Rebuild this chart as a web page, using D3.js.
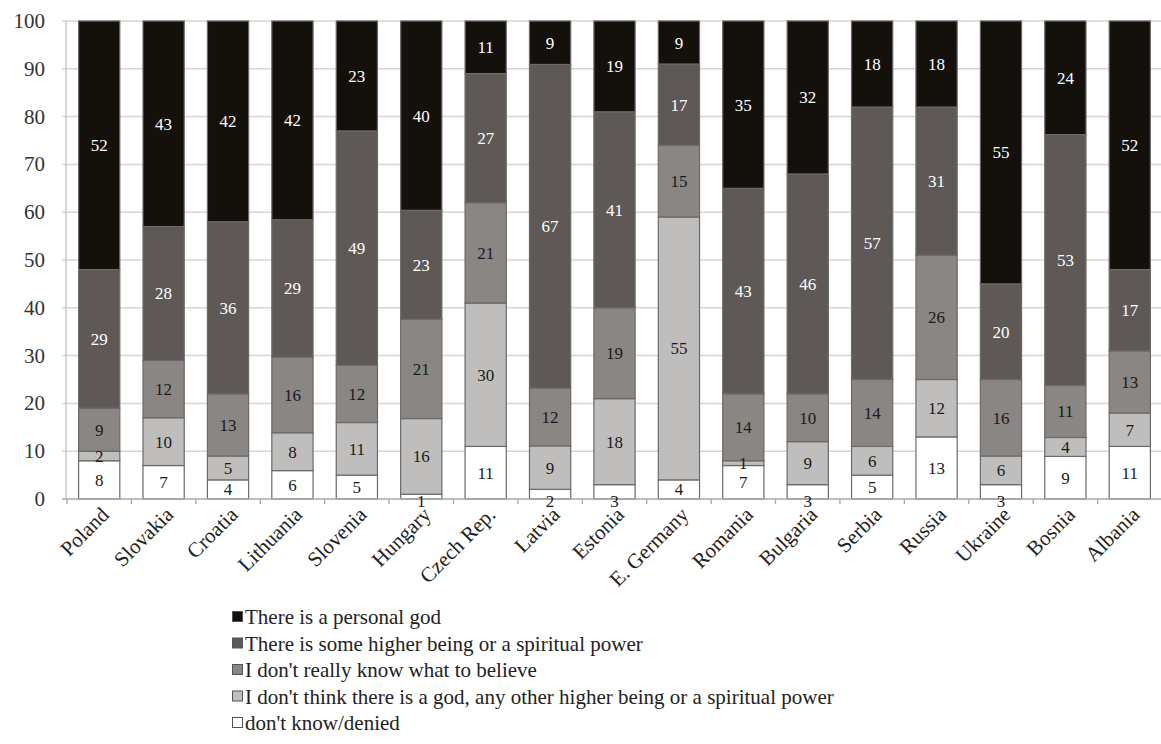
<!DOCTYPE html>
<html>
<head>
<meta charset="utf-8">
<script src="https://cdn.jsdelivr.net/npm/d3@7"></script>
</head>
<body style="margin:0">
<svg id="chart" width="1161" height="744" font-family="Liberation Serif"></svg>
<script>
// Countries along the horizontal axis
const countries = ["Poland", "Slovakia", "Croatia", "Lithuania", "Slovenia", "Hungary",
  "Czech Rep.", "Latvia", "Estonia", "E. Germany", "Romania", "Bulgaria", "Serbia",
  "Russia", "Ukraine", "Bosnia", "Albania"];

// Answer categories, stacked from the bottom up
const seriesNames = [
  "don't know/denied",
  "I don't think there is a god, any other higher being or a spiritual power",
  "I don't really know what to believe",
  "There is some higher being or a spiritual power",
  "There is a personal god"
];

// Percentages per country, one array per answer category
const dontKnowDenied   = [8, 7, 4, 6, 5, 1, 11, 2, 3, 4, 7, 3, 5, 13, 3, 9, 11];
const noGodAtAll       = [2, 10, 5, 8, 11, 16, 30, 9, 18, 55, 1, 9, 6, 12, 6, 4, 7];
const dontKnowBelieve  = [9, 12, 13, 16, 12, 21, 21, 12, 19, 15, 14, 10, 14, 26, 16, 11, 13];
const higherBeing      = [29, 28, 36, 29, 49, 23, 27, 67, 41, 17, 43, 46, 57, 31, 20, 53, 17];
const personalGod      = [52, 43, 42, 42, 23, 40, 11, 9, 19, 9, 35, 32, 18, 18, 55, 24, 52];

const yTicks = [0, 10, 20, 30, 40, 50, 60, 70, 80, 90, 100];

const seriesColors = ["#ffffff", "#bfbebc", "#898684", "#5e5956", "#14110d"];
const labelColors  = ["#1a1a1a", "#1a1a1a", "#1a1a1a", "#ffffff", "#ffffff"];

const serifFace = () => `"Liberation Serif"`;

const seriesValues = [dontKnowDenied, noGodAtAll, dontKnowBelieve, higherBeing, personalGod];

const rows = countries.map((c, i) => {
  const r = { country: c };
  seriesNames.forEach((s, k) => { r[s] = seriesValues[k][i]; });
  return r;
});

// 100% stacked columns
const stacked = d3.stack().keys(seriesNames).offset(d3.stackOffsetExpand)(rows);

const svg = d3.select("#chart");
const plotLeft = 67, plotRight = 1162, plotTop = 21, plotBottom = 499;

const x = d3.scaleBand().domain(countries).range([plotLeft, plotRight])
  .paddingInner(0.36).paddingOuter(0.18);
const y = d3.scaleLinear().domain([0, 100]).range([plotBottom, plotTop]);

// Horizontal gridlines with short ticks left of the axis
svg.append("g").selectAll("line").data(yTicks.filter(t => t > 0)).join("line")
  .attr("x1", plotLeft - 5).attr("x2", 1161)
  .attr("y1", d => y(d)).attr("y2", d => y(d))
  .attr("stroke", "#d6d6d6").attr("stroke-width", 1.5);

// Vertical axis line
svg.append("line").attr("x1", plotLeft - 1).attr("x2", plotLeft - 1)
  .attr("y1", plotTop).attr("y2", plotBottom)
  .attr("stroke", "#c8c8c8").attr("stroke-width", 1.5);

// Y tick labels
svg.selectAll("text.ytick").data(yTicks).join("text")
  .attr("class", "ytick")
  .attr("x", 45).attr("y", d => y(d) + 7)
  .attr("text-anchor", "end")
  .attr("font-size", 21).attr("fill", "#333")
  .style("font-family", serifFace)
  .text(d => d);

// Stacked bars
const layers = svg.append("g").selectAll("g").data(stacked).join("g")
  .attr("fill", (d, i) => seriesColors[i]);

layers.selectAll("rect").data(d => d).join("rect")
  .attr("x", d => x(d.data.country))
  .attr("width", x.bandwidth())
  .attr("y", d => y(d[1] * 100))
  .attr("height", d => y(d[0] * 100) - y(d[1] * 100))
  .attr("stroke", "#6a6a6a").attr("stroke-width", 1.2);

// Horizontal axis line with ticks at category boundaries
svg.append("line").attr("x1", plotLeft - 5).attr("x2", 1161)
  .attr("y1", plotBottom).attr("y2", plotBottom)
  .attr("stroke", "#a8a8a8").attr("stroke-width", 1.5);

const step = x.step();
const boundaries = d3.range(countries.length + 1).map(i => plotLeft + i * step);
svg.append("g").selectAll("line").data(boundaries).join("line")
  .attr("x1", d => d).attr("x2", d => d)
  .attr("y1", plotBottom).attr("y2", plotBottom + 5)
  .attr("stroke", "#a8a8a8").attr("stroke-width", 1.3);

// Value labels inside the segments
stacked.forEach((layer, k) => {
  svg.selectAll(`text.val${k}`).data(layer).join("text")
    .attr("class", `val${k}`)
    .attr("x", d => x(d.data.country) + x.bandwidth() / 2)
    .attr("y", d => {
      const v = d.data[layer.key];
      const mid = y((d[0] + d[1]) / 2 * 100);
      return ((k === 0 && v <= 3) ? plotBottom + 2 : mid) + 6;
    })
    .attr("text-anchor", "middle")
    .attr("font-size", 17)
    .attr("fill", labelColors[k])
    .style("font-family", serifFace)
    .text(d => d.data[layer.key]);
});

// Rotated country labels
svg.selectAll("text.country").data(countries).join("text")
  .attr("class", "country")
  .attr("transform", d => `translate(${x(d) + x.bandwidth() / 2 + 6},${plotBottom + 12}) rotate(-45)`)
  .attr("text-anchor", "end")
  .attr("y", 7)
  .attr("font-size", 21)
  .attr("fill", "#222")
  .style("font-family", serifFace)
  .text(d => d);

// Legend, listed from the top category down
const legendOrder = seriesNames.map((n, i) => ({ name: n, color: seriesColors[i] })).reverse();
svg.selectAll("rect.key").data(legendOrder).join("rect")
  .attr("class", "key")
  .attr("x", 232.5).attr("y", (d, i) => 611.5 + i * 26.5)
  .attr("width", 10).attr("height", 10)
  .attr("fill", d => d.color).attr("stroke", "#555").attr("stroke-width", 1);
svg.selectAll("text.key").data(legendOrder).join("text")
  .attr("class", "key")
  .attr("x", 245).attr("y", (d, i) => 624 + i * 26.5)
  .attr("font-size", 21).attr("fill", "#222")
  .style("font-family", serifFace)
  .text(d => d.name);
</script>
</body>
</html>
